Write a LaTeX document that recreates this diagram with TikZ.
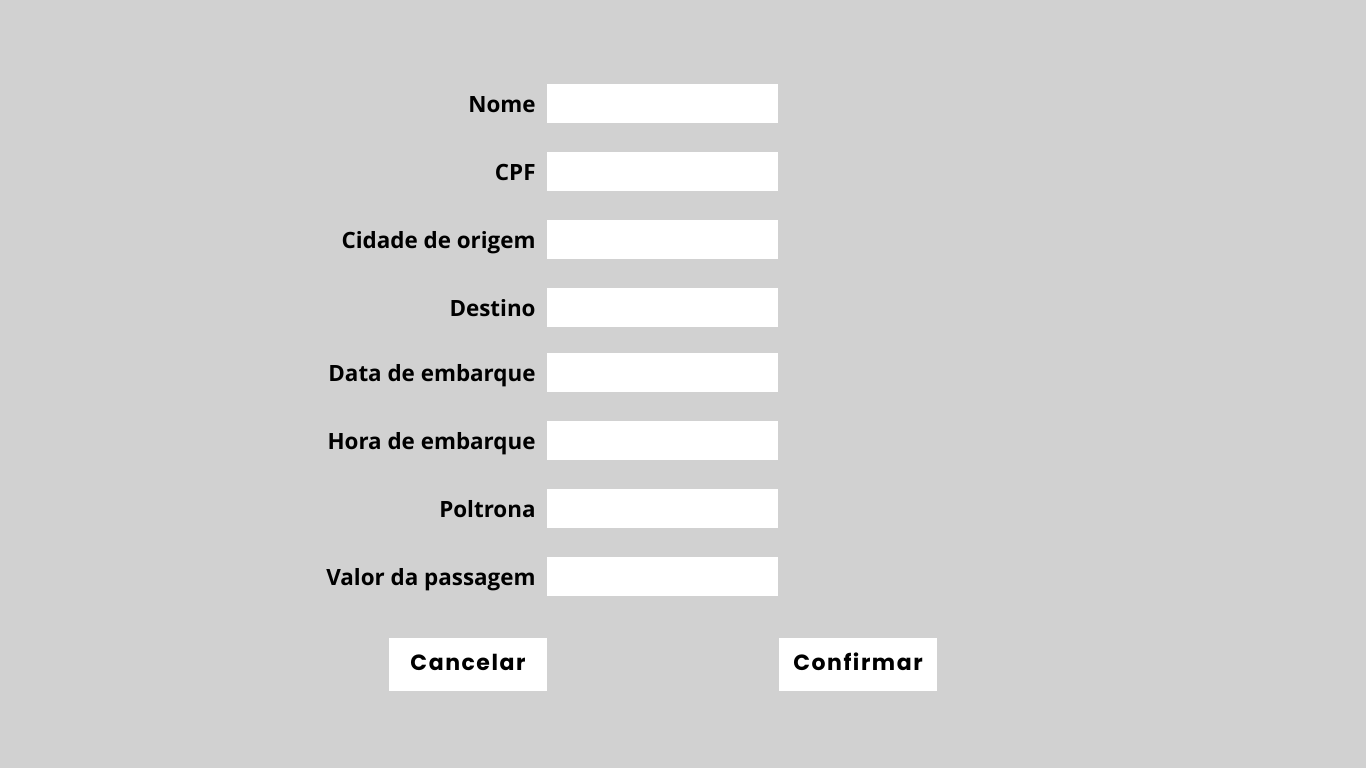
\documentclass[tikz,border=0pt]{standalone}
\usepackage{fontspec}
\setmainfont{Open Sans}
\newfontfamily\btnfont[LetterSpace=7]{Poppins}
\usetikzlibrary{positioning}
\definecolor{bggray}{HTML}{D1D1D1}
\tikzset{font=\bfseries\fontsize{22.4}{26}\selectfont}

\begin{document}
\begin{tikzpicture}[x=1pt, y=-1pt]
	\fill[bggray] (0,0) rectangle (1366,768);
	\useasboundingbox (0,0) rectangle (1366,768);
	\begin{scope}
		\tikzstyle{field}=[fill=white, minimum width=231pt, minimum height=39pt, inner sep=0pt]
		\tikzstyle{lbl}=[anchor=east, inner sep=0pt, text height=22pt, text depth=4pt]
		\tikzstyle{btn}=[fill=white, minimum width=158pt, minimum height=53pt, inner sep=0pt, text height=15pt, text depth=4pt, font=\btnfont\bfseries\fontsize{22}{26}\selectfont]
		\node[field] (nome) at (662.5, 103.5) {};
		\node[field] (cpf) at (662.5, 171.5) {};
		\node[field] (origem) at (662.5, 239.5) {};
		\node[field] (destino) at (662.5, 307.5) {};
		\node[field] (data) at (662.5, 372.5) {};
		\node[field] (hora) at (662.5, 440.5) {};
		\node[field] (poltrona) at (662.5, 508.5) {};
		\node[field] (valor) at (662.5, 576.5) {};

		\node[lbl, left=11pt of nome] (nomeL) {Nome};
		\node[lbl, left=11pt of cpf] (cpfL) {CPF};
		\node[lbl, left=11pt of origem] (origemL) {Cidade de origem};
		\node[lbl, left=11pt of destino] (destinoL) {Destino};
		\node[lbl, left=11pt of data] (dataL) {Data de embarque};
		\node[lbl, left=11pt of hora] (horaL) {Hora de embarque};
		\node[lbl, left=11pt of poltrona] (poltronaL) {Poltrona};
		\node[lbl, left=11pt of valor] (valorL) {Valor da passagem};

		\node[btn] (cancelar) at (468, 664.5) {Cancelar};
		\node[btn] (confirmar) at (858, 664.5) {Confirmar};
	\end{scope}
\end{tikzpicture}
\end{document}
